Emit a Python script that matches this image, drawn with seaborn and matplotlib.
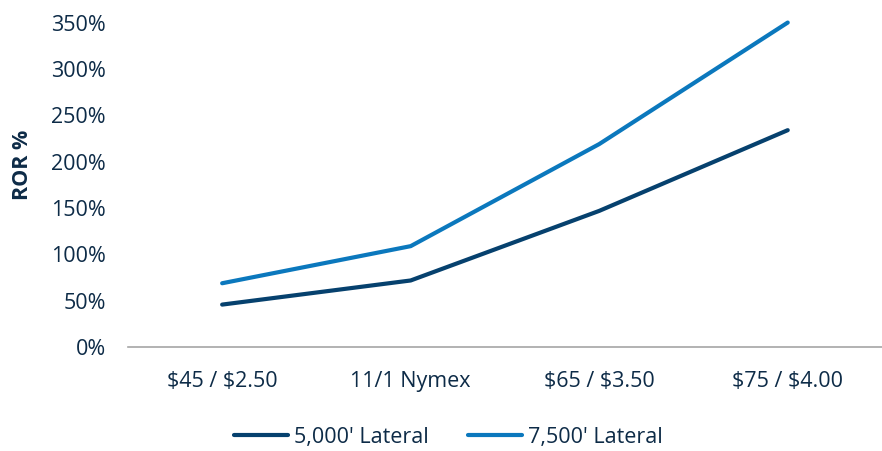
import matplotlib
matplotlib.use("Agg")
import matplotlib.pyplot as plt
import seaborn as sns
import pandas as pd
from matplotlib.ticker import FuncFormatter

categories = ["$45 / $2.50", "11/1 Nymex", "$65 / $3.50", "$75 / $4.00"]
lateral_5000 = [46, 72, 147, 234]
lateral_7500 = [69, 109, 219, 350]
series_names = ["5,000' Lateral", "7,500' Lateral"]
y_ticks = [0, 50, 100, 150, 200, 250, 300, 350]

df = pd.DataFrame({
    "Scenario": categories * 2,
    "ROR": lateral_5000 + lateral_7500,
    "Series": [series_names[0]] * 4 + [series_names[1]] * 4,
})
df["Scenario"] = pd.Categorical(df["Scenario"], categories=categories, ordered=True)
df["x"] = df["Scenario"].cat.codes

sns.set_theme(style="white")
plt.rcParams["font.family"] = ["Open Sans", "DejaVu Sans"]
plt.rcParams["text.parse_math"] = False

text_color = "#0d2b47"
palette = {series_names[0]: "#06416e", series_names[1]: "#0b78bd"}
fs = 15.5

fig = plt.figure(figsize=(8.82, 4.51), dpi=100)
ax = fig.add_axes([0.145, 0.23, 0.855, 0.72])

sns.lineplot(data=df, x="x", y="ROR", hue="Series", palette=palette,
             linewidth=3, ax=ax, legend=True, solid_capstyle="round")
for line in ax.get_lines():
    line.set_clip_on(False)

ax.set_xlim(-0.5, 3.5)
ax.set_ylim(0, 350)
ax.set_xticks(range(len(categories)))
ax.set_xticklabels(categories)
ax.set_yticks(y_ticks)
ax.yaxis.set_major_formatter(FuncFormatter(lambda v, p: f"{int(v)}%"))
ax.tick_params(axis="both", length=0, labelsize=fs, colors=text_color)
ax.tick_params(axis="x", pad=17)
ax.tick_params(axis="y", pad=16)

for side in ["top", "right", "left"]:
    ax.spines[side].set_visible(False)
ax.spines["bottom"].set_color("#a6a6a6")
ax.spines["bottom"].set_linewidth(1.2)

ax.set_xlabel("")
ax.set_ylabel("")
fig.text(0.026, 0.634, "ROR %", rotation=90, ha="center", va="center",
         fontsize=fs, fontweight="bold", color=text_color)

handles, labels = ax.get_legend_handles_labels()
ax.get_legend().remove()
leg = fig.legend(handles, labels, loc="center", bbox_to_anchor=(0.5085, 0.031), ncol=2,
                 frameon=False, fontsize=fs, handlelength=2.5, handletextpad=0.3,
                 columnspacing=1.8, borderaxespad=0, borderpad=0)
for t in leg.get_texts():
    t.set_color(text_color)

fig.savefig("out.png", dpi=100)
